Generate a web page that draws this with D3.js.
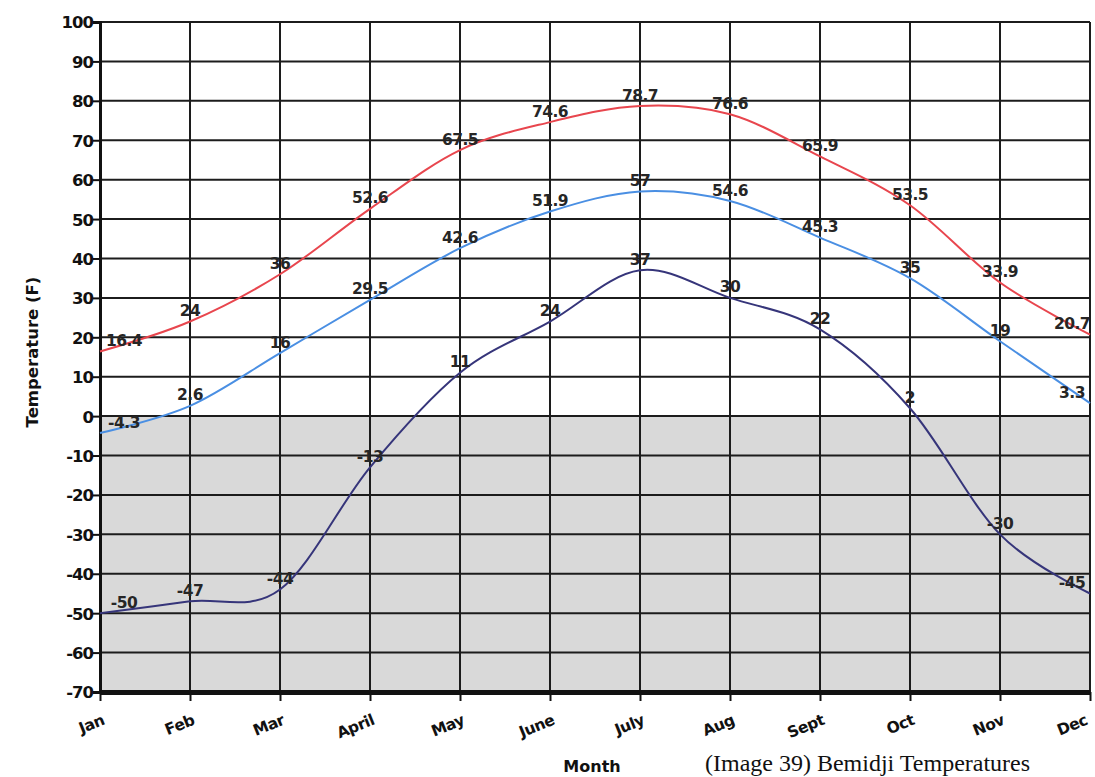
<!DOCTYPE html>
<html>
<head>
<meta charset="utf-8">
<script src="https://cdn.jsdelivr.net/npm/d3@7"></script>
<style>
  html, body { margin: 0; padding: 0; background: #fff; }
  svg { display: block; }
</style>
</head>
<body>
<svg id="chart" width="1095" height="777"></svg>
<script>
const months = ["Jan","Feb","Mar","April","May","June","July","Aug","Sept","Oct","Nov","Dec"];
const highTemps = [16.4, 24, 36, 52.6, 67.5, 74.6, 78.7, 76.6, 65.9, 53.5, 33.9, 20.7];
const meanTemps = [-4.3, 2.6, 16, 29.5, 42.6, 51.9, 57, 54.6, 45.3, 35, 19, 3.3];
const lowTemps  = [-50, -47, -44, -13, 11, 24, 37, 30, 22, 2, -30, -45];
const yTicks = [100, 90, 80, 70, 60, 50, 40, 30, 20, 10, 0, -10, -20, -30, -40, -50, -60, -70];

const series = [
  { name: "High", values: highTemps, color: "#e8464e" },
  { name: "Mean", values: meanTemps, color: "#4a8fe3" },
  { name: "Low",  values: lowTemps,  color: "#36357a" }
];

(function () {
const svg = d3.select("#chart");
const pLeft = 100, pRight = 1090, pTop = 22, pBottom = 692;
const font = "'DejaVu Sans', sans-serif";

const x = d3.scalePoint().domain(months).range([pLeft, pRight]);
const y = d3.scaleLinear().domain([-70, 100]).range([pBottom, pTop]);

// shaded area below zero
svg.append("rect")
  .attr("x", pLeft).attr("y", y(0))
  .attr("width", pRight - pLeft).attr("height", y(-70) - y(0))
  .attr("fill", "#d9d9d9");

// horizontal gridlines
svg.append("g").selectAll("line").data(yTicks).join("line")
  .attr("x1", pLeft).attr("x2", pRight)
  .attr("y1", d => y(d)).attr("y2", d => y(d))
  .attr("stroke", "#1c1c1c").attr("stroke-width", 2);

// vertical gridlines
svg.append("g").selectAll("line").data(months).join("line")
  .attr("x1", d => x(d)).attr("x2", d => x(d))
  .attr("y1", pTop).attr("y2", pBottom)
  .attr("stroke", "#1c1c1c").attr("stroke-width", 2);

// left axis
const yAxis = d3.axisLeft(y).tickValues(yTicks).tickSize(7).tickFormat(d => String(d));
const gy = svg.append("g").attr("transform", `translate(${pLeft},0)`).call(yAxis);
gy.select(".domain").attr("stroke", "#111").attr("stroke-width", 3);
gy.selectAll(".tick line").attr("stroke", "#111").attr("stroke-width", 2);
gy.selectAll(".tick text")
  .attr("font-family", font)
  .attr("font-weight", "bold").attr("font-size", 16.5)
  .attr("fill", "#111").attr("x", -7).attr("dy", "0.36em")
  .style("letter-spacing", "-1px");

// bottom axis
const xAxis = d3.axisBottom(x).tickSize(9).tickSizeOuter(0);
const gx = svg.append("g").attr("transform", `translate(0,${pBottom})`).call(xAxis);
gx.select(".domain").attr("stroke", "#111").attr("stroke-width", 5);
gx.selectAll(".tick line").attr("stroke", "#111").attr("stroke-width", 2);
gx.selectAll(".tick text")
  .attr("font-family", font)
  .attr("font-weight", "bold").attr("font-size", 15.5)
  .attr("fill", "#111")
  .attr("text-anchor", "end")
  .attr("dy", null).attr("y", 0)
  .style("letter-spacing", "-0.5px")
  .attr("transform", (d, i) => `translate(${i === months.length - 1 ? -2 : 5},32) rotate(-22)`);

// lines
const line = d3.line()
  .x((d, i) => x(months[i]))
  .y(d => y(d))
  .curve(d3.curveCardinal.tension(0));

svg.append("g").selectAll("path").data(series).join("path")
  .attr("d", d => line(d.values))
  .attr("fill", "none")
  .attr("stroke", d => d.color)
  .attr("stroke-width", 2);

// data labels
series.forEach(s => {
  svg.append("g").selectAll("text").data(s.values).join("text")
    .attr("x", (d, i) => {
      const px = x(months[i]);
      if (i === 0) return px + 24;
      if (i === months.length - 1) return px - 18;
      return px;
    })
    .attr("y", d => y(d) - 11)
    .attr("dy", "0.36em")
    .attr("text-anchor", "middle")
    .attr("font-family", font)
    .attr("font-weight", "bold")
    .attr("font-size", 15.5)
    .attr("fill", "#262626")
    .style("letter-spacing", "-0.5px")
    .text(d => String(d));
});

// axis titles
svg.append("text")
  .attr("transform", `translate(38,352) rotate(-90)`)
  .attr("text-anchor", "middle")
  .attr("font-family", font)
  .attr("font-weight", "bold").attr("font-size", 16.5)
  .attr("fill", "#111")
  .text("Temperature (F)");

svg.append("text")
  .attr("x", 592).attr("y", 772)
  .attr("text-anchor", "middle")
  .attr("font-family", font)
  .attr("font-weight", "bold").attr("font-size", 16)
  .attr("fill", "#111")
  .text("Month");

svg.append("text")
  .attr("x", 705).attr("y", 771)
  .attr("font-family", "'Liberation Serif', 'Times New Roman', serif")
  .attr("font-size", 24)
  .attr("fill", "#111")
  .text("(Image 39) Bemidji Temperatures");
})();
</script>
</body>
</html>
